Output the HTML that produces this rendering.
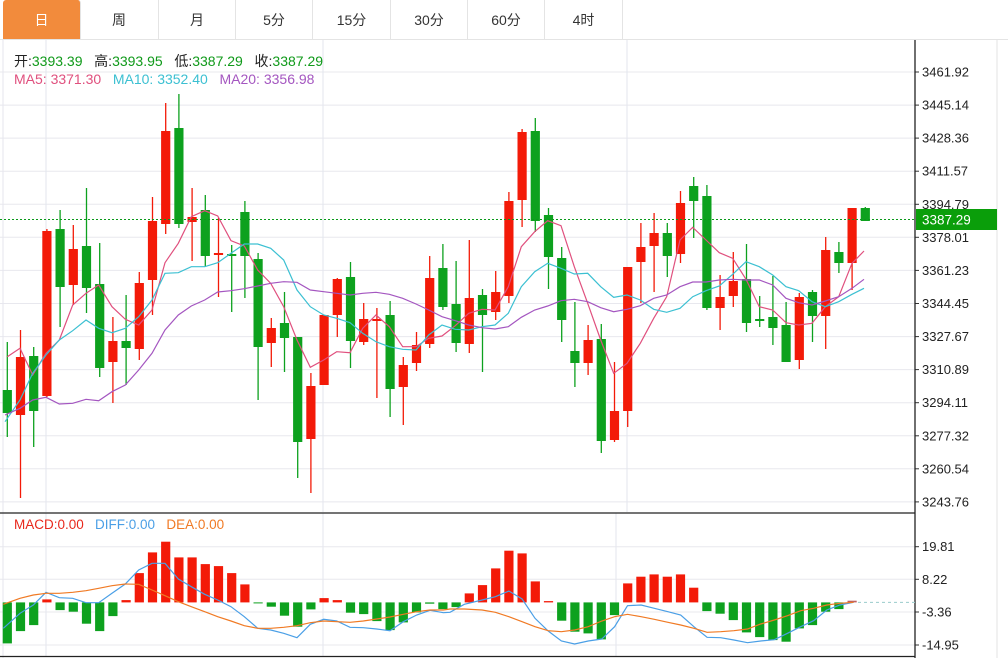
<!DOCTYPE html>
<html><head><meta charset="utf-8"><style>
html,body{margin:0;padding:0;background:#fff;width:1008px;height:658px;overflow:hidden;font-family:"Liberation Sans","Noto Sans CJK SC",sans-serif}
.tabs{position:absolute;left:0;top:0;height:39px;width:1008px;border-bottom:1px solid #e4e4e4}
.tab{position:absolute;top:0;height:39px;line-height:40px;text-align:center;font-size:14px;color:#333;border-right:1px solid #e4e4e4}
.tab.on{background:#f28b3c;color:#fff;border-radius:3px 3px 0 0}
.lg{position:absolute;font-size:14px;white-space:pre}
</style></head><body>
<div class="tabs">
<div class="tab on" style="left:3px;width:77px">日</div>
<div class="tab" style="left:80px;width:78px">周</div>
<div class="tab" style="left:159px;width:76px">月</div>
<div class="tab" style="left:236px;width:76px">5分</div>
<div class="tab" style="left:313px;width:77px">15分</div>
<div class="tab" style="left:391px;width:76px">30分</div>
<div class="tab" style="left:468px;width:76px">60分</div>
<div class="tab" style="left:545px;width:77px">4时</div>
</div>
<svg id="s" width="1008" height="658" style="position:absolute;left:0;top:0"></svg>
<div class="lg" style="left:14px;top:51px;color:#222">开:<span style="color:#109a1a">3393.39</span>   高:<span style="color:#109a1a">3393.95</span>   低:<span style="color:#109a1a">3387.29</span>   收:<span style="color:#109a1a">3387.29</span></div>
<div class="lg" style="left:14px;top:71px"><span style="color:#e0507e">MA5: 3371.30</span>   <span style="color:#3cc0d2">MA10: 3352.40</span>   <span style="color:#a456c0">MA20: 3356.98</span></div>
<div class="lg" style="left:14px;top:517px;font-size:13.5px"><span style="color:#e8281c">MACD:0.00</span>   <span style="color:#4a9fe6">DIFF:0.00</span>   <span style="color:#f07a24">DEA:0.00</span></div>
<script>
var s=document.getElementById('s'),h='';
var R='#f31a08',G='#0da11e';
var labs=['3461.92','3445.14','3428.36','3411.57','3394.79','3378.01','3361.23','3344.45','3327.67','3310.89','3294.11','3277.32','3260.54','3243.76'];
for(var k=0;k<14;k++){var y=(72+k*33.07).toFixed(1);
h+='<line x1="0" y1="'+y+'" x2="915" y2="'+y+'" stroke="#e8e8ee"/>';
h+='<line x1="915" y1="'+y+'" x2="919" y2="'+y+'" stroke="#333"/>';
h+='<text x="922" y="'+(+y+4.5)+'" font-size="13" fill="#222">'+labs[k]+'</text>';}
[46,323,627].forEach(function(x){h+='<line x1="'+x+'" y1="40" x2="'+x+'" y2="512" stroke="#e3e6ee"/>';});
[46,323,616].forEach(function(x){h+='<line x1="'+x+'" y1="513" x2="'+x+'" y2="656" stroke="#e3e6ee"/>';});
h+='<line x1="3" y1="40" x2="3" y2="658" stroke="#e6e6ee"/>';
var ml=[['19.81',546.7],['8.22',579.3],['-3.36',612],['-14.95',645]];
ml.forEach(function(m){h+='<line x1="0" y1="'+m[1]+'" x2="915" y2="'+m[1]+'" stroke="#e8e8ee"/><line x1="915" y1="'+m[1]+'" x2="919" y2="'+m[1]+'" stroke="#333"/><text x="922" y="'+(m[1]+4.5)+'" font-size="13" fill="#222">'+m[0]+'</text>';});
h+='<line x1="997" y1="40" x2="997" y2="658" stroke="#e3e3e3"/>';
h+='<line x1="0" y1="513" x2="915" y2="513" stroke="#222" stroke-width="1.3"/>';
h+='<line x1="0" y1="656.5" x2="915" y2="656.5" stroke="#222" stroke-width="1.3"/>';
h+='<line x1="915" y1="40" x2="915" y2="658" stroke="#222" stroke-width="1.3"/>';
var C=[[G,390,413,342,437],[R,357,415,330,498],[G,356,411,347,447],[R,231,396,229,397],[G,229,287,210,327],[R,249,285,225,305],[G,246,288,188,313],[G,284,368,243,377],[R,341,362,317,403],[G,341,348,295,385],
[R,283,349,272,360],[R,221,280,197,315],[R,131,224,103,234],[G,128,224,94,228],[R,217,222,188,261],[G,210,256,195,267],[R,253,255,218,297],[G,254,256,245,312],[G,212,256,201,298],[G,259,347,253,400],
[R,328,343,318,367],[G,323,338,292,372],[G,337,442,337,478],[R,386,439,373,493],[R,315,385,315,385],[R,279,315,278,337],[G,277,341,262,368],[R,319,342,303,345],[R,319,321,308,398],[G,315,389,301,417],
[R,365,387,357,425],[R,345,363,332,371],[R,278,344,256,348],[G,268,307,244,310],[G,304,343,261,352],[R,298,344,240,353],[G,295,315,289,372],[R,292,312,271,320],[R,201,296,192,303],[R,132,200,129,227],
[G,131,221,118,232],[G,215,257,208,289],[G,258,320,247,342],[G,351,363,302,387],[R,340,363,325,375],[G,339,441,324,453],[R,411,440,362,442],[R,267,411,267,427],[R,247,262,223,303],[R,233,246,213,292],
[G,233,256,223,277],[R,203,254,191,263],[G,186,201,177,238],[G,196,308,185,310],[R,297,308,275,330],[R,281,296,252,307],[G,279,323,244,332],[G,319,321,296,327],[G,317,328,276,345],[G,325,362,302,362],
[R,297,360,293,369],[G,292,316,290,342],[R,250,316,237,349],[G,252,263,242,273],[R,208,263,208,290],[G,208,221,207,221]];
C.forEach(function(c,i){var x=7.3+13.2*i;
h+='<line x1="'+x+'" y1="'+c[3]+'" x2="'+x+'" y2="'+c[4]+'" stroke="'+c[0]+'" stroke-width="1.3"/>';
h+='<rect x="'+(x-4.6)+'" y="'+c[1]+'" width="9.2" height="'+Math.max(2,c[2]-c[1])+'" fill="'+c[0]+'"/>';});
function pl(segs,col,w){var p=[];segs.forEach(function(sg){var ox=sg[0],sx=sg[1],oy=sg[2],sy=sg[3];for(var j=0;j<sg[4].length;j+=2)p.push((ox+sg[4][j]/sx).toFixed(1)+','+(oy+sg[4][j+1]/sy).toFixed(1));});
h+='<polyline points="'+p.join(' ')+'" fill="none" stroke="'+col+'" stroke-width="'+(w||1.2)+'"/>';}
pl([[0,3,80,3,[22,830,60,805,98,885,138,820,178,780,218,675,258,640,296,615,336,680,376,718,416,735,456,690,495,548,535,490,574,410,614,392,653,408,693,482,733,498,773,570,812,610,851,680,891,780,931,862,971,840]],
[330,3,80,3,[20,815,60,818,98,745,138,705,178,740,218,800,258,800,296,775,336,768,376,737,416,700,456,688,495,690,535,620,574,500,614,455,653,422,693,437,733,560,773,670,812,780,851,880,891,850,931,790,971,715]],
[660,3,80,3,[20,650,60,480,98,442,138,480,178,518,218,535,258,598,298,680,338,690,378,728,416,735,456,730,496,680,536,650,576,550,612,513]]],'#e0507e');
pl([[0,3,80,3,[15,1025,60,960,98,880,138,825,178,780,218,752,258,720,296,745,336,758,376,745,416,710,456,660,495,580,535,578,574,560,614,560,653,548,693,520,733,492,773,492,812,505,851,540,891,630,931,680,971,705]],
[330,3,80,3,[20,715,60,728,98,760,138,785,178,800,218,808,258,810,296,765,336,735,376,748,416,750,456,740,495,735,535,700,574,620,614,575,653,550,693,565,733,582,773,580,812,620,851,652,891,645,931,660,971,688]],
[660,3,80,3,[20,697,60,685,98,650,138,632,178,618,218,583,258,545,298,560,338,585,378,620,416,632,456,665,496,680,536,665,576,643,612,625]]],'#3cc0d2');
pl([[0,3,80,3,[15,1005,60,985,98,960,138,952,178,972,218,970,258,958,296,962,336,935,376,915,416,870,456,820,495,750,535,705,574,678,614,660,653,636,693,632,733,626,773,618,812,610,851,605,891,607,931,630,971,635]],
[330,3,80,3,[20,640,60,645,98,640,138,637,178,643,218,655,258,672,296,690,336,710,376,722,416,735,456,743,495,747,535,740,574,712,614,690,653,678,693,662,733,658,773,665,812,683,851,695,891,688,931,677,971,655]],
[660,3,80,3,[20,645,60,620,98,606,138,606,178,600,218,598,258,600,298,600,338,615,378,655,416,668,456,675,496,663,536,650,576,625,612,598]]],'#a456c0');
h+='<line x1="0" y1="219.5" x2="915" y2="219.5" stroke="#0a9a1a" stroke-dasharray="2,2"/>';
h+='<rect x="916" y="209" width="81" height="21" fill="#0a9e0a"/><text x="922" y="224.5" font-size="13.5" fill="#fff">3387.29</text>';
var M=[-41,-28.7,-22.7,3,-7.7,-9.3,-21.3,-28.7,-13.7,2.3,29.3,50,60.7,45,45,38.3,36.3,29.3,18,-1,-4.3,-13.3,-24.3,-7,4.3,2.3,-10.3,-11.7,-18.7,-27.7,-20,-10,-1.3,-6.7,-4.7,9,17.3,34,51.7,49,21,1.3,-18.3,-29.3,-31,-37,-12.7,19,25.7,28,25.7,28,14.7,-8.7,-11.3,-17.7,-30,-34.7,-37.7,-39.3,-26,-22.7,-9.3,-6.7,1.7];
var z=602.4;
M.forEach(function(v,i){var x=7.3+13.2*i;var col=v>=0?(i==64?'#c06060':R):G;
h+='<rect x="'+(x-4.6)+'" y="'+(v>=0?z-v:z)+'" width="9.2" height="'+Math.max(1,Math.abs(v))+'" fill="'+col+'"/>';});
h+='<line x1="858" y1="602.4" x2="915" y2="602.4" stroke="#9cc" stroke-dasharray="3,3"/>';
pl([[0,3,505,3,[10,370,60,325,100,300,138,262,178,278,218,280,258,293,296,293,336,265,376,237,416,195,456,175,495,175,535,222,574,245,614,268,653,285,693,305,733,335,773,370,812,375,851,385,891,398,931,358,971,343,1010,348,1050,367,1090,368,1130,372,1170,377,1210,350,1250,330,1290,316,1330,323]],
[450,2.8,505,3,[0,322,40,298,90,285,127,275,165,258,202,282,238,340,275,378,312,408,349,417,387,408,425,402,461,365,497,302,535,300,572,310,610,320,646,330,683,365,720,397,758,398,795,405,833,413,870,408,908,404,945,385,982,365,1018,347,1055,315,1092,300,1130,292]]],'#4a9fe6');
pl([[0,3,505,3,[10,298,60,280,100,270,138,265,178,265,218,262,258,257,296,250,336,242,376,237,416,238,456,255,495,272,535,290,574,305,614,320,653,335,693,348,733,362,773,370,812,370,851,367,891,362,931,353,971,348,1010,350,1050,352,1090,348,1130,342,1170,336,1210,328,1250,320,1290,315,1330,315]],
[450,2.8,505,3,[0,312,40,312,90,315,127,322,165,335,202,350,238,365,275,377,312,380,349,375,387,365,425,348,461,335,497,328,535,335,572,343,610,352,646,360,683,370,720,382,758,380,795,377,833,372,870,357,908,345,945,332,982,317,1018,310,1055,300,1092,295,1130,292]]],'#f07a24');
s.innerHTML=h;
</script>
</body></html>
